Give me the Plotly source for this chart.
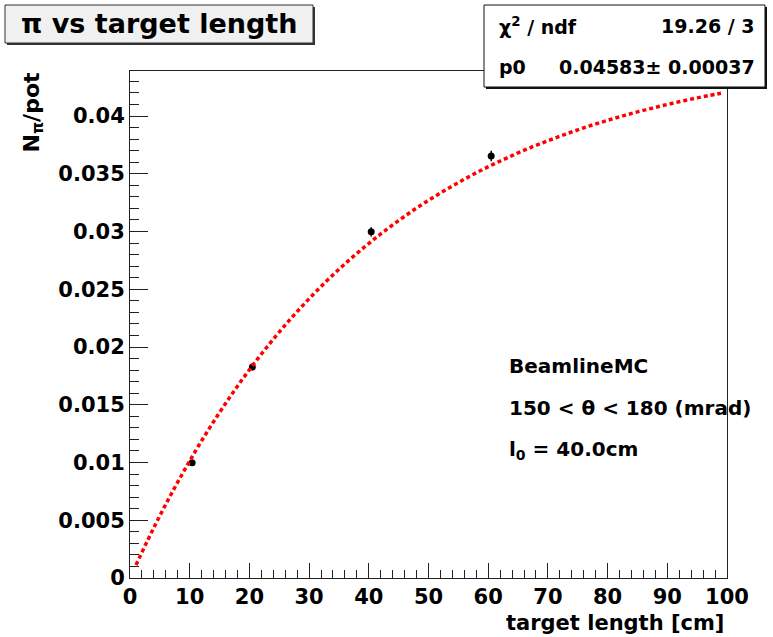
import plotly.graph_objects as go

# ---- data ----
length_cm = [10.4, 20.5, 40.4, 60.5]
n_pi_pot = [0.00997, 0.01828, 0.02998, 0.03654]
n_pi_err = [0.00020, 0.00030, 0.00040, 0.00045]

fit_x = [1, 3, 5, 7, 9, 11, 13, 15, 17, 19, 21, 23, 25, 27, 29, 31, 33, 35, 37, 39,
         41, 43, 45, 47, 49, 51, 53, 55, 57, 59, 61, 63, 65, 67, 69, 71, 73, 75, 77, 79,
         81, 83, 85, 87, 89, 91, 93, 95, 97, 99]
fit_y = [0.00113, 0.00331, 0.00539, 0.00736, 0.00923, 0.01102, 0.01272, 0.01433, 0.01587, 0.01733,
         0.01872, 0.02004, 0.02130, 0.02250, 0.02363, 0.02472, 0.02575, 0.02673, 0.02766, 0.02854,
         0.02939, 0.03019, 0.03095, 0.03168, 0.03237, 0.03302, 0.03365, 0.03424, 0.03481, 0.03535,
         0.03586, 0.03634, 0.03681, 0.03725, 0.03766, 0.03806, 0.03844, 0.03880, 0.03915, 0.03947,
         0.03978, 0.04008, 0.04036, 0.04062, 0.04088, 0.04112, 0.04135, 0.04157, 0.04178, 0.04197]

y_tickvals = [0, 0.005, 0.01, 0.015, 0.02, 0.025, 0.03, 0.035, 0.04]
y_ticktext = ["0", "0.005", "0.01", "0.015", "0.02", "0.025", "0.03", "0.035", "0.04"]
x_tickvals = [0, 10, 20, 30, 40, 50, 60, 70, 80, 90, 100]
x_ticktext = ["0", "10", "20", "30", "40", "50", "60", "70", "80", "90", "100"]

title_text = "π vs target length"
x_title = "target length [cm]"
y_title = "N<sub>π</sub>/pot"
stats_rows = [("χ<sup>2</sup> / ndf", "19.26 / 3"), ("p0", "0.04583± 0.00037")]
info_lines = ["BeamlineMC", "150 &lt; θ &lt; 180 (mrad)", "l<sub>0</sub> = 40.0cm"]

# ---- layout geometry (pixels) ----
W, H = 773, 637
L, R, T, B = 130, 727, 71, 578
FONT = "DejaVu Sans"


def px(xp):
    return (xp - L) / (R - L)


def py(yp):
    return (B - yp) / (B - T)


fig = go.Figure()
fig.add_trace(go.Scatter(
    x=length_cm, y=n_pi_pot, mode="markers",
    marker=dict(color="black", size=7),
    error_y=dict(type="data", array=n_pi_err, color="black", thickness=1.5, width=0),
    showlegend=False, hoverinfo="skip"))
fig.add_trace(go.Scatter(
    x=fit_x, y=fit_y, mode="lines", line_shape="spline",
    line=dict(color="#ff0000", width=3.5, dash="4px,3px"),
    showlegend=False, hoverinfo="skip"))

tickfont = dict(family=FONT, size=21, color="black", weight="bold")
fig.update_xaxes(range=[0, 100], tickvals=x_tickvals, ticktext=x_ticktext,
                 ticks="inside", ticklen=15, tickwidth=1, tickcolor="#222",
                 minor=dict(dtick=2, ticks="inside", ticklen=8, tickwidth=1, tickcolor="#222"),
                 showline=True, linecolor="#222", linewidth=1, mirror=True,
                 showgrid=False, zeroline=False, tickfont=tickfont)
fig.update_yaxes(range=[0, 0.0439], tickvals=y_tickvals, ticktext=y_ticktext,
                 ticks="inside", ticklen=18, tickwidth=1, tickcolor="#222",
                 minor=dict(dtick=0.001, ticks="inside", ticklen=9, tickwidth=1, tickcolor="#222"),
                 showline=True, linecolor="#222", linewidth=1, mirror=True,
                 showgrid=False, zeroline=False, tickfont=tickfont)

shapes = [
    # title box shadow + box
    dict(type="rect", xref="paper", yref="paper", x0=px(7), x1=px(315), y0=py(45), y1=py(7),
         fillcolor="#333", line=dict(width=0), layer="above"),
    dict(type="rect", xref="paper", yref="paper", x0=px(5), x1=px(313), y0=py(43), y1=py(5),
         fillcolor="#f0f0f0", line=dict(color="#333", width=1), layer="above"),
    # stats box shadow + box
    dict(type="rect", xref="paper", yref="paper", x0=px(486), x1=px(767), y0=py(89), y1=py(7),
         fillcolor="#111", line=dict(width=0), layer="above"),
    dict(type="rect", xref="paper", yref="paper", x0=px(484), x1=px(765), y0=py(87), y1=py(5),
         fillcolor="white", line=dict(color="#111", width=1), layer="above"),
]

ann = []
ann.append(dict(text=title_text, x=px(159), y=py(24), xanchor="center", yanchor="middle",
                font=dict(family=FONT, size=27, color="black", weight="bold")))
row_y = [26, 67]
for (lab, val), yy in zip(stats_rows, row_y):
    ann.append(dict(text=lab, x=px(497), y=py(yy), xanchor="left", yanchor="middle",
                    font=dict(family=FONT, size=19, color="black", weight="bold")))
    ann.append(dict(text=val, x=px(757), y=py(yy), xanchor="right", yanchor="middle",
                    font=dict(family=FONT, size=19, color="black", weight="bold")))
info_y = [366, 408, 450]
for txt, yy in zip(info_lines, info_y):
    ann.append(dict(text=txt, x=px(507), y=py(yy), xanchor="left", yanchor="middle",
                    font=dict(family=FONT, size=20, color="black", weight="bold")))
ann.append(dict(text=x_title, x=px(726), y=py(623), xanchor="right", yanchor="middle",
                font=dict(family=FONT, size=21, color="black", weight="bold")))
ann.append(dict(text=y_title, x=px(33), y=py(70), xanchor="center", yanchor="top",
                textangle=-90, font=dict(family=FONT, size=22, color="black", weight="bold")))
for a in ann:
    a.update(xref="paper", yref="paper", showarrow=False)

fig.update_layout(width=W, height=H, margin=dict(l=L, r=W - R, t=T, b=H - B, pad=0),
                  plot_bgcolor="white", paper_bgcolor="white",
                  shapes=shapes, annotations=ann, showlegend=False)

fig.write_html("out.html", config={"displayModeBar": False},
               post_script="document.body.style.margin='0';document.body.style.overflow='hidden';")
